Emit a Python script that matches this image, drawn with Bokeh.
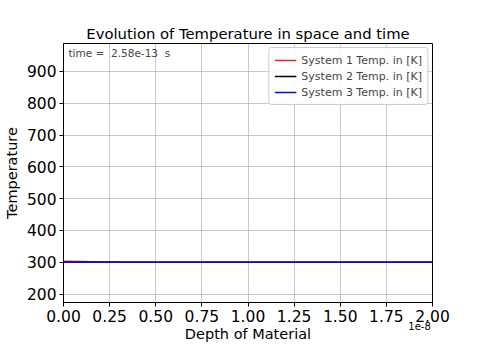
from bokeh.plotting import figure
from bokeh.models import (Legend, LegendItem, Label, SingleIntervalTicker,
                          CustomJSTickFormatter, Range1d, Title, LinearAxis,
                          FixedTicker)
from bokeh.embed import file_html
from bokeh.resources import INLINE

# data
depth = [0.0, 0.1e-8, 0.2e-8, 0.3e-8, 0.4e-8, 0.5e-8, 0.6e-8, 0.7e-8, 0.8e-8,
         0.9e-8, 1.0e-8, 1.2e-8, 1.4e-8, 1.6e-8, 1.8e-8, 2.0e-8]
temp_sys1 = [303.5, 302.5, 301.2, 300.5, 300.2, 300.1, 300.0, 300.0, 300.0,
             300.0, 300.0, 300.0, 300.0, 300.0, 300.0, 300.0]
temp_sys2 = [300.0] * 16
temp_sys3 = [300.0, 300.0, 300.0, 300.0, 300.0, 300.0, 300.0, 300.0, 300.0,
             300.0, 300.0, 300.0, 300.0, 300.0, 300.0, 300.0]
series_names = ["System 1 Temp. in [K]", "System 2 Temp. in [K]", "System 3 Temp. in [K]"]
series_colors = ["#e8262a", "#000000", "#0a0ad0"]
title_text = "Evolution of Temperature in space and time"
time_text = "time =\u00a0\u00a02.58e-13\u00a0\u00a0s"
offset_text = "1e-8"

FONT = "DejaVu Sans"

p = figure(width=464, height=344, output_backend="svg", toolbar_location=None,
           title=" ",
           x_range=Range1d(0, 2.0e-8), y_range=Range1d(173.5, 988),
           min_border_left=46, min_border_right=32, min_border_top=0,
           min_border_bottom=0)

# outer spacer (the plot's own title slot)
p.title.text_font_size = "17px"
p.title.standoff = 0

# real title, placed next to the frame
p.add_layout(Title(text=title_text, align="center", text_font=FONT,
                   text_font_size="14.8px", text_font_style="normal",
                   text_color="black", standoff=3), "above")

p.outline_line_color = "black"
p.outline_line_width = 1
p.outline_line_alpha = 1

for ax in (p.xaxis[0], p.yaxis[0]):
    ax.axis_line_color = "black"
    ax.major_tick_line_color = "black"
    ax.minor_tick_line_color = None
    ax.major_tick_in = 0
    ax.major_tick_out = 4
    ax.major_label_text_font = FONT
    ax.major_label_text_font_size = "15.5px"
    ax.major_label_text_color = "black"
    ax.axis_label_text_font = FONT
    ax.axis_label_text_font_size = "14.5px"
    ax.axis_label_text_font_style = "normal"
    ax.axis_label_text_color = "black"
    ax.major_label_standoff = 3

p.xaxis.ticker = SingleIntervalTicker(interval=0.25e-8)
p.xaxis.formatter = CustomJSTickFormatter(code="return (tick/1e-8).toFixed(2);")
p.xaxis.axis_label = "Depth of Material"
p.xaxis.axis_label_standoff = 1

p.yaxis.ticker = SingleIntervalTicker(interval=100)
p.yaxis.axis_label = "Temperature"
p.yaxis.axis_label_standoff = 4

# offset text "1e-8" drawn as the only label of a bare axis under the main one
OFFSET_POS = 1.93e-8
off_axis = LinearAxis(ticker=FixedTicker(ticks=[OFFSET_POS]),
                      major_label_overrides={OFFSET_POS: offset_text},
                      axis_line_color=None, major_tick_line_color=None,
                      minor_tick_line_color=None, major_tick_out=0,
                      major_tick_in=0, major_label_standoff=-23,
                      major_label_text_font=FONT,
                      major_label_text_font_size="10px",
                      major_label_text_color="black")
p.add_layout(off_axis, "below")

p.grid.grid_line_color = "#b0b0b0"
p.grid.grid_line_alpha = 0.7
p.grid.grid_line_width = 1

r1 = p.line(depth, temp_sys1, line_color=series_colors[0], line_width=1.5)
r2 = p.line(depth, temp_sys2, line_color=series_colors[1], line_width=1.5)
r3 = p.line(depth, temp_sys3, line_color=series_colors[2], line_width=1.5)

legend = Legend(items=[LegendItem(label=series_names[0], renderers=[r1]),
                       LegendItem(label=series_names[1], renderers=[r2]),
                       LegendItem(label=series_names[2], renderers=[r3])],
                location="top_right")
legend.label_text_font = FONT
legend.label_text_font_size = "11px"
legend.label_height = 14
legend.glyph_height = 14
legend.glyph_width = 22
legend.spacing = 2
legend.padding = 5
legend.margin = 4
legend.border_line_color = "#cccccc"
legend.border_line_alpha = 1
legend.border_radius = 3
legend.background_fill_alpha = 0.9
p.add_layout(legend)

p.add_layout(Label(x=0, y=988, x_offset=5, y_offset=-3, text=time_text,
                   text_font=FONT, text_font_size="10.5px",
                   text_baseline="top", text_align="left"))

open("out.html", "w").write(file_html(p, INLINE))
